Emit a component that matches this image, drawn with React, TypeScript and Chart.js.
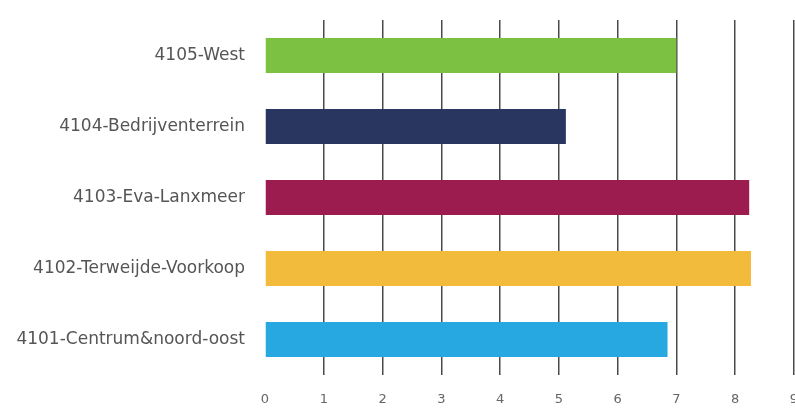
import React, { useEffect, useRef } from "react";
import { Chart, registerables } from "chart.js";

Chart.register(...registerables);

const categories = [
  "4105-West",
  "4104-Bedrijventerrein",
  "4103-Eva-Lanxmeer",
  "4102-Terweijde-Voorkoop",
  "4101-Centrum&noord-oost",
];
const values = [7.0, 5.12, 8.24, 8.27, 6.85];
const barColors = ["#7cc142", "#29365f", "#9c1c50", "#f3bb3c", "#27a8e0"];
const xMin = 0;
const xMax = 9;

export default function App() {
  const ref = useRef<HTMLCanvasElement | null>(null);

  useEffect(() => {
    document.body.style.margin = "0";
    if (!ref.current) return;
    const chart = new Chart(ref.current, {
      type: "bar",
      data: {
        labels: categories,
        datasets: [
          {
            data: values,
            backgroundColor: barColors,
            borderWidth: 0,
            barPercentage: 0.49,
            categoryPercentage: 1,
          },
        ],
      },
      options: {
        indexAxis: "y",
        animation: false,
        responsive: true,
        maintainAspectRatio: false,
        layout: { padding: { top: 20, bottom: 0, left: 0, right: 0 } },
        plugins: { legend: { display: false }, tooltip: { enabled: false } },
        scales: {
          x: {
            min: xMin,
            max: xMax,
            afterFit: (scale: any) => {
              scale.height = 43;
            },
            ticks: {
              stepSize: 1,
              padding: 17,
              color: "#666",
              font: { family: "DejaVu Sans", size: 13 },
            },
            grid: {
              drawTicks: false,
              color: (ctx: any) => (ctx.tick && ctx.tick.value === 0 ? "rgba(0,0,0,0)" : "#4a4a4a"),
              lineWidth: 1.5,
            },
            border: { display: false },
          },
          y: {
            afterFit: (scale: any) => {
              scale.width = 265;
              scale.paddingTop = 0;
              scale.paddingBottom = 0;
            },
            ticks: {
              padding: 20,
              color: "#555",
              font: { family: "DejaVu Sans", size: 17 },
            },
            grid: { display: false, drawTicks: false },
            border: { display: false },
          },
        },
      },
    });
    return () => chart.destroy();
  }, []);

  return (
    <div style={{ width: 795, height: 418, overflow: "hidden" }}>
      <div style={{ width: 815, height: 418, position: "relative" }}>
        <canvas ref={ref} />
      </div>
    </div>
  );
}
